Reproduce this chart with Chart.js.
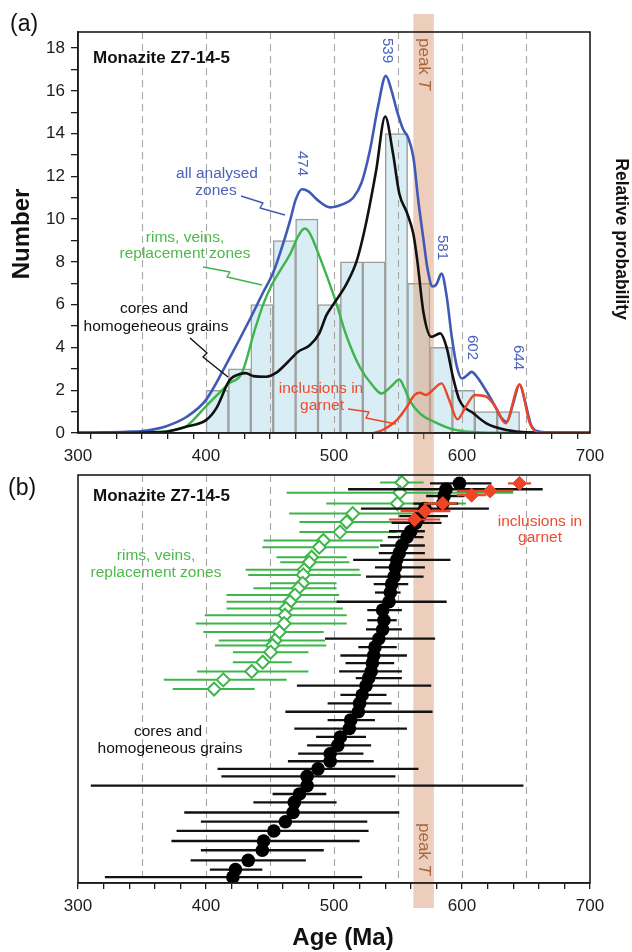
<!DOCTYPE html>
<html>
<head>
<meta charset="utf-8">
<script src="https://cdn.jsdelivr.net/npm/chart.js@4.4.0/dist/chart.umd.min.js"></script>
<style>
  html, body { margin: 0; padding: 0; background: #fff; }
  #wrap { position: relative; width: 632px; height: 952px; }
  canvas { position: absolute; left: 0; }
  #cA { top: 0; }
  #cB { top: 462px; }
</style>
</head>
<body>
<div id="wrap">
  <canvas id="cA" width="632" height="462"></canvas>
  <canvas id="cB" width="632" height="490"></canvas>
</div>
<script>
/* ---------- data: (a) histogram + probability curves ---------- */
const binCentre = [408.75, 426.25, 443.75, 461.25, 478.75, 496.25, 513.75, 531.25, 548.75, 566.25, 583.75, 601.25, 618.75, 636.25];
const binCount  = [2, 3, 6, 9, 10, 6, 8, 8, 14, 7, 4, 2, 1, 1];

const allAge  = [300, 320, 338, 354, 369, 385, 400, 417.5, 435, 444, 452.5, 461, 466, 470, 475, 480, 487, 497, 507, 515, 521.5, 528, 534.5, 540.5, 545, 549, 554, 558, 562, 566, 570, 573, 577, 580, 584, 588, 592, 596, 600, 604, 607.5, 612, 616.5, 624, 631, 635, 640, 645, 649, 654, 661, 670, 700];
const allProb = [0.02, 0.03, 0.06, 0.12, 0.32, 0.76, 1.55, 3.4, 5.4, 6.5, 7.5, 9.0, 10.0, 10.9, 11.4, 11.3, 10.9, 10.55, 10.7, 11.0, 11.7, 13.2, 15.3, 16.7, 16.0, 15.1, 14.2, 13.8, 12.9, 10.8, 9.0, 7.7, 6.85, 6.95, 7.45, 6.4, 4.5, 3.1, 2.55, 2.7, 2.86, 2.6, 2.2, 1.46, 0.69, 0.53, 1.39, 2.27, 1.54, 0.37, 0.06, 0.03, 0.02];

const rimCurveAge  = [300, 340, 360, 369, 385, 390, 400, 410, 417.5, 428, 438, 445, 452, 458, 466, 472, 477, 481, 489, 500, 510, 520, 531, 537, 545, 551, 555, 559, 567, 578, 593, 614, 650, 700];
const rimCurveProb = [0.01, 0.02, 0.04, 0.07, 0.33, 0.6, 1.25, 1.85, 2.3, 2.8, 4.8, 6.06, 7.0, 7.6, 8.4, 9.2, 9.56, 9.35, 8.2, 6.4, 4.5, 3.1, 2.16, 1.85, 2.2, 2.5, 2.1, 1.54, 0.92, 0.53, 0.17, 0.03, 0.01, 0.01];

const coreCurveAge  = [300, 340, 360, 369, 385, 400, 408, 418.5, 426.5, 431, 437, 447, 455, 463, 472, 481, 488.5, 494, 500, 510, 518, 525, 533, 540, 546, 551, 557, 562, 565, 570, 576, 583, 588, 593, 598, 609, 619, 635, 650, 700];
const coreCurveProb = [0, 0.01, 0.03, 0.06, 0.3, 0.6, 1.15, 2.48, 2.76, 2.8, 2.66, 2.63, 2.82, 3.26, 3.8, 4.1, 4.66, 5.5, 6.06, 7.0, 8.1, 9.8, 12.3, 14.8, 13.1, 11.2, 10.3, 9.3, 8.1, 5.6, 4.5, 4.66, 4.0, 2.6, 1.54, 0.92, 0.45, 0.14, 0.03, 0];

const inclCurveAge  = [531, 538, 549, 557, 563, 567, 572, 577, 584, 590, 596.5, 603, 610, 619, 626, 634, 645, 653, 660, 700];
const inclCurveProb = [0, 0.14, 0.6, 1.23, 1.78, 1.88, 1.78, 2.0, 2.32, 1.54, 0.64, 1.23, 1.78, 1.7, 1.23, 0.45, 2.27, 0.45, 0.02, 0.01];

/* ---------- data: (b) individual spot ages with 2-sigma bars ---------- */
const coreAge  = [421, 423, 433, 444, 445, 453, 462, 468, 469, 473, 479, 479, 487.5, 497, 497, 503, 505, 512, 513, 519, 520, 522, 525, 527, 529, 530, 531, 532, 535, 538, 539, 538, 543, 544, 545, 547, 548, 549, 551, 553, 557, 560, 564, 567, 571, 585, 586, 587.5, 598];
const coreLo   = [321, 403, 388, 396, 373, 377, 396, 383, 437, 452, 310, 412, 409, 464, 472, 479, 486, 469, 495, 462, 495, 505, 471, 517, 504, 509, 505, 519, 493, 525, 526, 526, 502, 532, 531, 525, 532, 515, 535, 536, 542, 543, 545, 551, 521, 562, 572, 511, 575];
const coreHi   = [522, 444, 478, 492, 520, 527, 526, 551, 502, 494, 648, 548, 566, 531, 523, 529, 525, 557, 532, 577, 545, 541, 576, 553, 553, 547, 557, 549, 579, 553, 549, 553, 588, 552, 558, 570, 571, 591, 571, 571, 570, 571, 584, 589, 621, 597, 602, 663, 623];
const coreRank = [0.7, 1.6, 2.7, 3.9, 5.0, 6.2, 7.3, 8.4, 9.6, 10.6, 11.6, 12.7, 13.6, 14.5, 15.4, 16.4, 17.4, 18.4, 19.4, 20.4, 21.4, 22.4, 23.5, 24.4, 25.2, 26.2, 27.1, 28.1, 29.1, 30.2, 31.3, 32.5, 33.5, 34.6, 35.6, 36.5, 37.6, 38.5, 39.3, 40.2, 41.2, 41.9, 42.9, 43.7, 44.6, 45.2, 46.1, 46.9, 47.6];

const rimAge  = [553, 551.5, 549.5, 514.6, 509.9, 504.7, 491.7, 488.5, 482.5, 480.7, 476.6, 476, 475.5, 472, 469.5, 465.6, 462.5, 461.7, 461, 457.3, 453.9, 452, 450.5, 444.3, 435.7, 413.5, 406.3];
const rimLo   = [536, 463, 494, 465, 473, 473, 445, 444, 455, 458, 431, 433, 450, 437, 416, 416, 416, 399, 392, 398, 410, 407, 421, 421, 393, 367, 374];
const rimHi   = [570, 640, 603, 565, 560, 549, 538, 535, 510, 512, 520, 521, 502, 502, 504, 507, 507, 510, 510, 492, 493, 494, 480, 467, 480, 463, 438];
const rimRank = [47.7, 46.5, 45.2, 44.0, 43.0, 41.8, 40.8, 40.0, 38.8, 38.2, 37.3, 36.7, 35.7, 35.1, 34.3, 33.5, 32.7, 31.9, 30.9, 29.9, 28.9, 28.3, 27.5, 26.3, 25.2, 24.2, 23.1];

const inclAge  = [645, 622, 607.5, 585, 571, 563];
const inclLo   = [636, 596, 596, 570, 552, 543];
const inclHi   = [654, 640, 619, 596, 591, 583];
const inclRank = [47.6, 46.7, 46.2, 45.2, 44.3, 43.3];

const guideAges = [350, 400, 450, 500, 550, 600, 650];
const peakBand = [562, 578];

/* ---------- styling ---------- */
const FONT = '"Liberation Sans", Arial, Helvetica, sans-serif';
const AX = '#1c1c1c';
const BLUE = '#3f5ab5', GREEN = '#3db54a', RED = '#ee4526', BROWN = '#a8673f';
Chart.defaults.font.family = FONT;

const pts = (xs, ys) => xs.map((x, i) => ({ x, y: ys[i] }));

function xAxis(h) {
  return {
    type: 'linear', min: 300, max: 700, offset: false,
    afterFit: s => { s.height = h; },
    ticks: {
      stepSize: 20, autoSkip: false, maxRotation: 0, includeBounds: false,
      font: { size: 17 }, color: AX, padding: 7,
      callback: v => (v % 100 === 0 ? String(v) : '')
    },
    grid: { drawOnChartArea: false, tickLength: 6, color: AX, lineWidth: 1.3 },
    border: { color: AX, width: 1.5 }
  };
}

/* ---------- drawing helpers ---------- */
function text(ctx, s, x, y, font, color, o = {}) {
  ctx.save();
  ctx.font = font; ctx.fillStyle = color;
  ctx.textAlign = o.align || 'center';
  ctx.textBaseline = o.base || 'alphabetic';
  ctx.translate(x, y);
  if (o.rot) ctx.rotate(o.rot);
  ctx.fillText(s, 0, 0);
  ctx.restore();
}

function squiggle(ctx, p, color) {
  ctx.save();
  ctx.strokeStyle = color; ctx.lineWidth = 1.4; ctx.lineJoin = 'round';
  ctx.beginPath();
  p.forEach(([x, y], i) => (i ? ctx.lineTo(x, y) : ctx.moveTo(x, y)));
  ctx.stroke();
  ctx.restore();
}

function peakT(ctx, cx, top) {
  ctx.save();
  ctx.translate(cx, top); ctx.rotate(Math.PI / 2);
  ctx.fillStyle = BROWN; ctx.textAlign = 'left'; ctx.textBaseline = 'middle';
  ctx.font = '17px ' + FONT;
  ctx.fillText('peak ', 0, 0);
  const w = ctx.measureText('peak ').width;
  ctx.font = 'italic 17px ' + FONT;
  ctx.fillText('T', w, 0);
  ctx.restore();
}

function guides(chart, bandTop, bandBottom) {
  const { ctx, chartArea: a, scales: { x } } = chart;
  ctx.save();
  ctx.strokeStyle = '#a5a5a5'; ctx.lineWidth = 1.1; ctx.setLineDash([7, 5]);
  guideAges.forEach(g => {
    const px = Math.round(x.getPixelForValue(g)) + 0.5;
    ctx.beginPath(); ctx.moveTo(px, a.top); ctx.lineTo(px, a.bottom); ctx.stroke();
  });
  ctx.setLineDash([]);
  const x1 = x.getPixelForValue(peakBand[0]), x2 = x.getPixelForValue(peakBand[1]);
  ctx.fillStyle = 'rgba(220,158,122,0.5)';
  ctx.fillRect(x1, bandTop, x2 - x1, bandBottom - bandTop);
  ctx.restore();
}

function frame(chart) {
  const { ctx, chartArea: a } = chart;
  ctx.save();
  ctx.strokeStyle = AX; ctx.lineWidth = 1.6;
  ctx.strokeRect(a.left, a.top, a.right - a.left, a.bottom - a.top);
  ctx.restore();
}

/* ---------- (a) ---------- */
const panelA = {
  id: 'panelA',
  afterDatasetDraw(chart, args) {
    if (args.meta.type === 'bar') guides(chart, 14, chart.height);
  },
  afterDraw(chart) {
    const ctx = chart.ctx;
    frame(chart);
    text(ctx, '(a)', 10, 25, '23px ' + FONT, '#111', { align: 'left', base: 'middle' });
    text(ctx, 'Monazite Z7-14-5', 93, 63, 'bold 17px ' + FONT, '#111', { align: 'left' });
    text(ctx, 'Number', 22, 234, 'bold 24px ' + FONT, '#111', { base: 'middle', rot: -Math.PI / 2 });
    text(ctx, 'Relative probability', 621, 239, 'bold 17.5px ' + FONT, '#111', { base: 'middle', rot: Math.PI / 2 });

    const f = '15.5px ' + FONT;
    text(ctx, 'all analysed', 217, 178, f, '#4a62bb');
    text(ctx, 'zones', 216, 195, f, '#4a62bb');
    squiggle(ctx, [[241, 196], [263, 203], [260, 208], [285, 215]], BLUE);

    text(ctx, 'rims, veins,', 185, 242, f, '#4db94a');
    text(ctx, 'replacement zones', 185, 258, f, '#4db94a');
    squiggle(ctx, [[203, 267], [230, 272], [227, 277], [262, 285]], GREEN);

    text(ctx, 'cores and', 154, 313, f, '#111');
    text(ctx, 'homogeneous grains', 156, 331, f, '#111');
    squiggle(ctx, [[190, 338], [207, 353], [203, 357], [228, 377]], '#111');

    text(ctx, 'inclusions in', 321, 393, f, '#f04a2c');
    text(ctx, 'garnet', 322, 410, f, '#f04a2c');
    squiggle(ctx, [[348, 409], [369, 412], [366, 418], [396, 424]], RED);

    const pf = '15px ' + FONT;
    [['474', 302.5, 151], ['539', 387, 38], ['581', 442.5, 235], ['602', 472, 335], ['644', 518.5, 345]]
      .forEach(([s, x, y]) => text(ctx, s, x, y, pf, '#4a62bb', { align: 'left', base: 'middle', rot: Math.PI / 2 }));

    peakT(ctx, 424, 38);
  }
};

new Chart(document.getElementById('cA'), {
  type: 'bar',
  data: {
    datasets: [
      { type: 'bar', data: pts(binCentre, binCount), backgroundColor: '#d9eef4',
        borderColor: '#9d9d9d', borderWidth: 1.5, barPercentage: 1, categoryPercentage: 1, order: 10 },
      { type: 'line', data: pts(allAge, allProb), borderColor: BLUE, borderWidth: 2.6,
        pointRadius: 0, cubicInterpolationMode: 'monotone', order: 4 },
      { type: 'line', data: pts(rimCurveAge, rimCurveProb), borderColor: GREEN, borderWidth: 2.4,
        pointRadius: 0, cubicInterpolationMode: 'monotone', order: 3 },
      { type: 'line', data: pts(coreCurveAge, coreCurveProb), borderColor: '#111', borderWidth: 2.6,
        pointRadius: 0, cubicInterpolationMode: 'monotone', order: 2 },
      { type: 'line', data: pts(inclCurveAge, inclCurveProb), borderColor: RED, borderWidth: 2.4,
        pointRadius: 0, cubicInterpolationMode: 'monotone', order: 1 }
    ]
  },
  options: {
    responsive: false, animation: false, devicePixelRatio: 1,
    layout: { padding: { top: 32, right: 42, left: 0, bottom: 0 } },
    plugins: { legend: { display: false }, tooltip: { enabled: false } },
    scales: {
      x: xAxis(29),
      y: {
        min: 0, max: 18.75,
        afterFit: s => { s.width = 78; },
        ticks: { stepSize: 1, autoSkip: false, includeBounds: false, font: { size: 17 }, color: AX, padding: 6,
          callback: v => (v % 2 === 0 ? String(v) : '') },
        grid: { drawOnChartArea: false, tickLength: 7, color: AX, lineWidth: 1.3 },
        border: { color: AX, width: 1.5 }
      }
    }
  },
  plugins: [panelA]
});

/* ---------- (b) ---------- */
const panelB = {
  id: 'panelB',
  beforeDatasetsDraw(chart) { guides(chart, 0, 446); },
  beforeDatasetDraw(chart, args) {
    const ds = chart.data.datasets[args.index];
    if (!ds.errLo) return;
    const { ctx, scales: { x, y }, chartArea: a } = chart;
    ctx.save();
    ctx.beginPath(); ctx.rect(a.left, a.top, a.right - a.left, a.bottom - a.top); ctx.clip();
    ctx.strokeStyle = ds.errColor; ctx.lineWidth = ds.errWidth;
    ds.data.forEach((p, i) => {
      const py = y.getPixelForValue(p.y);
      ctx.beginPath();
      ctx.moveTo(x.getPixelForValue(ds.errLo[i]), py);
      ctx.lineTo(x.getPixelForValue(ds.errHi[i]), py);
      ctx.stroke();
    });
    ctx.restore();
  },
  afterDraw(chart) {
    const ctx = chart.ctx;
    frame(chart);
    text(ctx, '(b)', 8, 27, '23px ' + FONT, '#111', { align: 'left', base: 'middle' });
    text(ctx, 'Monazite Z7-14-5', 93, 39, 'bold 17px ' + FONT, '#111', { align: 'left' });
    const f = '15.5px ' + FONT;
    text(ctx, 'rims, veins,', 156, 98, f, '#4db94a');
    text(ctx, 'replacement zones', 156, 115, f, '#4db94a');
    text(ctx, 'cores and', 168, 274, f, '#111');
    text(ctx, 'homogeneous grains', 170, 291, f, '#111');
    text(ctx, 'inclusions in', 540, 64, f, '#f04a2c');
    text(ctx, 'garnet', 540, 80, f, '#f04a2c');
    peakT(ctx, 424, 361);
    text(ctx, 'Age (Ma)', 343, 476, 'bold 24px ' + FONT, '#111', { base: 'middle' });
  }
};

new Chart(document.getElementById('cB'), {
  type: 'scatter',
  data: {
    datasets: [
      { data: pts(rimAge, rimRank), errLo: rimLo, errHi: rimHi, errColor: GREEN, errWidth: 2,
        pointStyle: 'rectRot', pointRadius: 6.5, borderColor: GREEN, borderWidth: 2,
        backgroundColor: '#fff', order: 3 },
      { data: pts(coreAge, coreRank), errLo: coreLo, errHi: coreHi, errColor: '#111', errWidth: 2.3,
        pointStyle: 'circle', pointRadius: 6.8, borderColor: '#000', borderWidth: 0,
        backgroundColor: '#000', order: 2 },
      { data: pts(inclAge, inclRank), errLo: inclLo, errHi: inclHi, errColor: RED, errWidth: 2.2,
        pointStyle: 'rectRot', pointRadius: 7, borderColor: RED, borderWidth: 1,
        backgroundColor: RED, order: 1 }
    ]
  },
  options: {
    responsive: false, animation: false, devicePixelRatio: 1,
    layout: { padding: { top: 13, right: 42, left: 78, bottom: 0 } },
    plugins: { legend: { display: false }, tooltip: { enabled: false } },
    scales: {
      x: xAxis(69),
      y: { display: false, min: 0, max: 48.6 }
    }
  },
  plugins: [panelB]
});
</script>
</body>
</html>
